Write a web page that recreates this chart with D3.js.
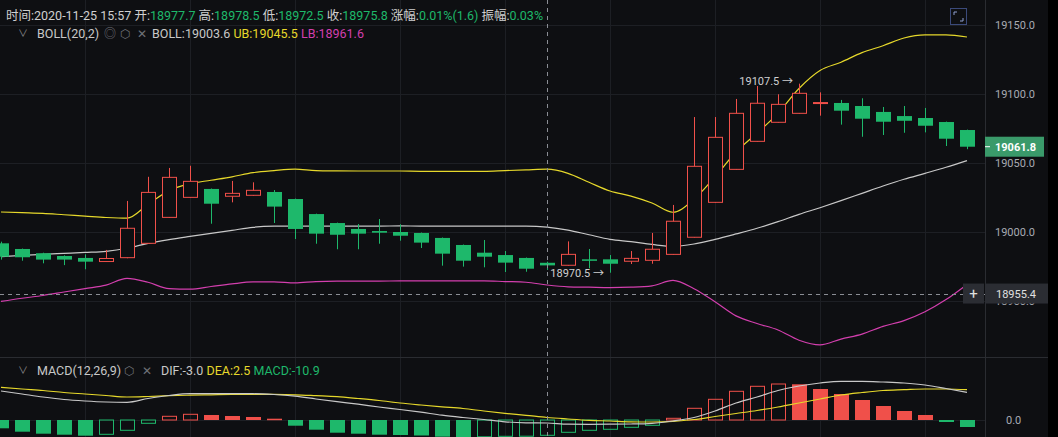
<!DOCTYPE html>
<html>
<head>
<meta charset="utf-8">
<script src="https://cdn.jsdelivr.net/npm/d3@7"></script>
<style>
  body { margin: 0; background: #0e0f12; overflow: hidden; }
  svg { display: block; font-family: Roboto, "Noto Sans CJK SC", sans-serif; }
</style>
</head>
<body>
<svg id="chart" width="1058" height="437"></svg>
<script>
// candle data (one entry per minute)
const opens  = [18991.8,18987.7,18984.6,18982.6,18981.2,18978.6,18981.4,18991.8,19010.6,19025.1,19031.2,19025.9,19026.6,19029,19023.9,19013,19006.5,19002.2,19000.7,19000,18999.3,18995.7,18990.6,18985,18983.3,18981.2,18977.7,18975.9,18980.2,18980.2,18978.8,18979.5,18983.8,18996.2,19021.5,19045.4,19065.7,19079.5,19086,19093.3,19093.5,19091.3,19087,19084,19082.6,19079.7,19073.9];
const highs  = [18993,18988,18985,18983.1,18983.8,18987,19022.5,19040,19046.4,19048,19031.5,19037,19036,19030.4,19024.2,19013.3,19006.8,19005.8,19009.4,19005.6,18999.6,18996,18990.9,18994.2,18986.2,18981.5,18978.5,18993.2,18987.7,18983.3,18986.2,18999.3,19019.6,19083.3,19083.3,19096.4,19105.8,19099.8,19107.5,19101.2,19095.7,19096.9,19090.6,19091.3,19089.9,19080,19074.2];
const lows   = [18980,18979.2,18977.3,18976,18973,18978.5,18981,18991.5,19010.3,19025,19006,19021.5,19026.3,19006.5,18994.9,18991.5,18987.5,18987.5,18991.5,18993.7,18988.4,18975.6,18974.9,18974.4,18971,18971.2,18972.5,18975.6,18973.7,18970.5,18976.8,18977,18983.5,18996,19021.2,19045.2,19065.5,19079.3,19085.8,19084.3,19077.8,19069,19070.3,19071.9,19072.2,19062.3,19060];
const closes = [18982.1,18981.7,18980,18980,18978.5,18980.8,19002.7,19028.7,19039.6,19036.7,19020.5,19028,19030.2,19018.4,19002.2,18998.8,18998,18998.8,18999.5,18997.3,18992.3,18984.3,18979.2,18982.1,18977.8,18973.4,18975.8,18983.8,18979.2,18977,18980.9,18987.5,19007.8,19047.6,19068.6,19086,19093.3,19092.5,19100.5,19093.8,19087.9,19082.1,19079.9,19080.6,19077,19067.6,19061.8];

// BOLL(20,2)
const bollUpper = [19014.5,19014,19013.5,19012.5,19011.5,19010.5,19010,19020,19030,19035,19037.5,19040,19043,19044.5,19045.5,19044.5,19044.3,19044.2,19044.2,19044.2,19044,19044,19044,19044,19044.5,19045,19045.5,19042.5,19036,19029.7,19026,19021,19014.3,19023.7,19040,19058,19071.7,19086,19104,19117,19123,19130,19135,19140.6,19142.8,19142.8,19141.3];
const bollMid   = [18982.1,18983,18983.8,18984.5,18985.2,18986,18988.2,18991.8,18994.5,18996.8,18999,19001.2,19003.4,19004.2,19004.3,19004.3,19004.3,19004.3,19004.3,19004.4,19004.3,19004.3,19004.3,19004.3,19004.3,19004.3,19003.6,19001.4,18998,18994.7,18993,18991,18989.6,18991.3,18994.7,18998.6,19002.7,19007.5,19012.8,19017.6,19022.7,19028,19033.3,19038.2,19042.5,19046.9,19051.7];
const bollLower = [18949.7,18952,18954,18956.5,18959,18961.5,18966.4,18963.6,18959,18958.6,18960.5,18962.4,18963.8,18963.9,18963.1,18964.1,18964.4,18964.4,18964.4,18964.6,18964.6,18964.6,18964.6,18964.6,18964.1,18963.6,18961.6,18960.3,18960,18959.7,18960,18961,18964.9,18958.9,18949.4,18939.2,18933.7,18929,18921.6,18918.2,18922.4,18926,18931.6,18935.8,18942.2,18951,18962];

// MACD(12,26,9)
const dif  = [29,26,23,20.5,19,18,17.7,21.5,24.5,26.3,26.3,26.3,26.3,25.5,23.8,21,18.3,15.8,13,10.5,7.8,4.8,2.5,0.5,-1.8,-2.8,-3.0,-4.2,-4.3,-4.2,-4,-3.3,-1,2.5,9,17,23,29.5,34,37,38.7,38.7,38,37,35,31.5,27.7];
const dea  = [32.7,31,29.5,27.5,26,24.5,23,23.5,24.3,24.8,25.2,25.6,25.7,25.6,25.2,24.3,23.3,21.5,19.5,17,15,13.2,11.5,9,6.7,4.7,2.5,1,-0.3,-1,-1.8,-2,-1.3,0.5,3.5,6.5,9.5,13,17,21,25,27.5,29.5,30.3,31,31,30.3];
const hist = [-8.3,-11.7,-13.7,-14.7,-15.7,-14.3,-10.3,-3.3,3.7,5.7,5,4,3,1.3,-5.7,-9.7,-12.7,-13.7,-14.7,-15,-15.5,-16.7,-17,-16.8,-16.3,-16.2,-15.3,-12.3,-10.3,-9.3,-7.3,-5.3,1.7,11.7,20.7,28.7,33.7,36,35.7,31,26,20,14,9,5,-2,-7];

const priceTicks = [18950, 19000, 19050, 19100, 19150];
const lastPrice = 19061.8;
const crossIndex = 26;
const crossPrice = 18955.4;

const W = 1058, H = 437;
const plotRight = 985;
const UP = '#f0504a', DOWN = '#1eb86b';
const svg = d3.select('#chart');

const x = d3.scaleLinear().domain([0, 46]).range([1, 967]);
const bw = 14;

// price pane
const y = d3.scaleLinear().domain([19000, 19150]).range([232, 25]);
// macd pane
const ym = d3.scaleLinear().domain([0, 40]).range([420, 380]);

svg.append('rect').attr('width', W).attr('height', H).attr('fill', '#0e0f12');

// grids
const grid = svg.append('g').attr('stroke', '#1d1f24').attr('stroke-width', 1);
d3.range(4, 47, 5).forEach(i => {
  grid.append('line').attr('x1', Math.round(x(i)) + 0.5).attr('x2', Math.round(x(i)) + 0.5)
    .attr('y1', 0).attr('y2', H);
});
priceTicks.forEach(v => {
  grid.append('line').attr('x1', 0).attr('x2', plotRight)
    .attr('y1', Math.round(y(v)) + 0.5).attr('y2', Math.round(y(v)) + 0.5);
});
grid.append('line').attr('x1', 0).attr('x2', plotRight).attr('y1', ym(0) + 0.5).attr('y2', ym(0) + 0.5);

// pane separator + axis separator
svg.append('line').attr('x1', 0).attr('x2', W).attr('y1', 357.5).attr('y2', 357.5).attr('stroke', '#2a2c31');
svg.append('line').attr('x1', plotRight + 0.5).attr('x2', plotRight + 0.5).attr('y1', 0).attr('y2', H).attr('stroke', '#2a2c31');
svg.append('rect').attr('x', 1048).attr('y', 0).attr('width', 10).attr('height', H).attr('fill', '#000');

const main = svg.append('g');
main.append('clipPath').attr('id', 'clipMain').append('rect').attr('x', 0).attr('y', 0).attr('width', plotRight).attr('height', 357);
main.attr('clip-path', 'url(#clipMain)');

// BOLL lines
const lineOf = (arr, sc) => d3.line().x((d, i) => x(i)).y(d => sc(d)).curve(d3.curveMonotoneX)(arr);
main.append('path').attr('d', lineOf(bollUpper, y)).attr('fill', 'none').attr('stroke', '#e6d82b').attr('stroke-width', 1.2);
main.append('path').attr('d', lineOf(bollMid, y)).attr('fill', 'none').attr('stroke', '#c8c8c8').attr('stroke-width', 1.2);
main.append('path').attr('d', lineOf(bollLower, y)).attr('fill', 'none').attr('stroke', '#d33fae').attr('stroke-width', 1.2);

// candles
opens.forEach((o, i) => {
  const c = closes[i], up = c >= o;
  const col = up ? UP : DOWN;
  const cx = Math.round(x(i)) + 0.5;
  const top = y(Math.max(o, c)), bot = y(Math.min(o, c));
  main.append('line').attr('x1', cx).attr('x2', cx).attr('y1', y(highs[i])).attr('y2', y(lows[i]))
    .attr('stroke', col).attr('stroke-width', 1);
  if (up) {
    main.append('rect').attr('x', cx - bw / 2).attr('y', top).attr('width', bw).attr('height', Math.max(bot - top, 1))
      .attr('fill', '#0e0f12').attr('stroke', col).attr('stroke-width', 1);
  } else {
    main.append('rect').attr('x', cx - bw / 2 - 0.5).attr('y', top).attr('width', bw + 1).attr('height', Math.max(bot - top, 1.5))
      .attr('fill', col);
  }
});

// max / min labels
const hiIdx = d3.maxIndex(highs), loIdx = d3.minIndex(lows);
main.append('text').attr('x', x(hiIdx) - 6).attr('y', y(highs[hiIdx]) + 1).attr('text-anchor', 'end')
  .attr('fill', '#d0d0d0').attr('font-size', 11).text(highs[hiIdx].toFixed(1) + ' →');
main.append('text').attr('x', x(loIdx) - 6).attr('y', y(lows[loIdx]) + 4).attr('text-anchor', 'end')
  .attr('fill', '#d0d0d0').attr('font-size', 11).text(lows[loIdx].toFixed(1) + ' →');

// MACD pane
const macd = svg.append('g');
macd.append('clipPath').attr('id', 'clipMacd').append('rect').attr('x', 0).attr('y', 358).attr('width', plotRight).attr('height', 79);
macd.attr('clip-path', 'url(#clipMacd)');
hist.forEach((h, i) => {
  const prev = i > 0 ? hist[i - 1] : h;
  const pos = h >= 0;
  const hollow = h > prev;
  const col = pos ? UP : DOWN;
  const cx = Math.round(x(i)) + 0.5;
  const y0 = ym(Math.max(h, 0)), y1 = ym(Math.min(h, 0));
  if (hollow) {
    macd.append('rect').attr('x', cx - bw / 2).attr('y', y0).attr('width', bw).attr('height', Math.max(y1 - y0, 1))
      .attr('fill', 'none').attr('stroke', col);
  } else {
    macd.append('rect').attr('x', cx - bw / 2 - 0.5).attr('y', y0).attr('width', bw + 1).attr('height', Math.max(y1 - y0, 1.5))
      .attr('fill', col);
  }
});
macd.append('path').attr('d', lineOf(dea, ym)).attr('fill', 'none').attr('stroke', '#e6d82b').attr('stroke-width', 1.2);
macd.append('path').attr('d', lineOf(dif, ym)).attr('fill', 'none').attr('stroke', '#c8c8c8').attr('stroke-width', 1.2);

// right axis labels
priceTicks.forEach(v => {
  svg.append('text').attr('x', 995).attr('y', y(v) + 4).attr('fill', '#a8abb2').attr('font-size', 11).text(v.toFixed(1));
});
svg.append('text').attr('x', 1006).attr('y', ym(0) + 4).attr('fill', '#a8abb2').attr('font-size', 11).text('0.0');

// crosshair
svg.append('line').attr('x1', Math.round(x(crossIndex)) + 0.5).attr('x2', Math.round(x(crossIndex)) + 0.5)
  .attr('y1', 0).attr('y2', H).attr('stroke', '#8a8d94').attr('stroke-dasharray', '4,4');
svg.append('line').attr('x1', 0).attr('x2', plotRight).attr('y1', Math.round(y(crossPrice)) + 0.5).attr('y2', Math.round(y(crossPrice)) + 0.5)
  .attr('stroke', '#8a8d94').attr('stroke-dasharray', '4,4');
svg.append('rect').attr('x', plotRight).attr('y', y(crossPrice) - 10).attr('width', 63).attr('height', 20).attr('fill', '#2b2d33');
svg.append('text').attr('x', 996).attr('y', y(crossPrice) + 4).attr('fill', '#e0e0e0').attr('font-size', 11).text(crossPrice.toFixed(1));
svg.append('rect').attr('x', 963).attr('y', y(crossPrice) - 10).attr('width', 21).attr('height', 20).attr('fill', '#2b2d33');
svg.append('text').attr('x', 973.5).attr('y', y(crossPrice) + 5).attr('text-anchor', 'middle').attr('fill', '#e0e0e0').attr('font-size', 15).text('+');

// last price tag
svg.append('rect').attr('x', plotRight).attr('y', y(lastPrice) - 10).attr('width', 59).attr('height', 20).attr('fill', '#3a9a6a');
svg.append('line').attr('x1', plotRight).attr('x2', plotRight + 5).attr('y1', y(lastPrice)).attr('y2', y(lastPrice)).attr('stroke', '#fff');
svg.append('text').attr('x', 995).attr('y', y(lastPrice) + 4).attr('fill', '#fff').attr('font-size', 11).attr('font-weight', 'bold').text(lastPrice.toFixed(1));

// header
const header = svg.append('text').attr('x', 6).attr('y', 20).attr('font-size', 12.5);
const G = '#1eb86b', L = '#d0d0d0';
[['时间:2020-11-25 15:57 ', L], ['开:', L], [opens[crossIndex].toFixed(1) + ' ', G], ['高:', L], [highs[crossIndex].toFixed(1) + ' ', G],
 ['低:', L], [lows[crossIndex].toFixed(1) + ' ', G], ['收:', L], [closes[crossIndex].toFixed(1) + ' ', G],
 ['涨幅:', L], ['0.01%(1.6) ', G], ['振幅:', L], ['0.03%', G]].forEach(([t, c]) => header.append('tspan').attr('fill', c).text(t));

// BOLL legend
const boll = svg.append('text').attr('y', 38).attr('font-size', 12.5);
boll.append('tspan').attr('x', 37).attr('fill', '#c8c8c8').text('BOLL(20,2)');
boll.append('tspan').attr('x', 152).attr('fill', '#c8c8c8').text('BOLL:' + bollMid[crossIndex].toFixed(1) + ' ');
boll.append('tspan').attr('fill', '#e6d82b').text('UB:' + bollUpper[crossIndex].toFixed(1) + ' ');
boll.append('tspan').attr('fill', '#d33fae').text('LB:' + bollLower[crossIndex].toFixed(1));
svg.append('text').attr('x', 18).attr('y', 37).attr('fill', '#888').attr('font-size', 10).text('∨');
svg.append('text').attr('x', 104).attr('y', 38).attr('fill', '#6f7178').attr('font-size', 12).text('◎');
svg.append('text').attr('x', 120).attr('y', 38).attr('fill', '#6f7178').attr('font-size', 12).text('⬡');
svg.append('text').attr('x', 137).attr('y', 38).attr('fill', '#6f7178').attr('font-size', 12).text('✕');

// MACD legend
const mh = svg.append('text').attr('y', 375).attr('font-size', 12.5);
mh.append('tspan').attr('x', 37).attr('fill', '#c8c8c8').text('MACD(12,26,9)');
mh.append('tspan').attr('x', 161).attr('fill', '#c8c8c8').text('DIF:' + dif[crossIndex].toFixed(1) + ' ');
mh.append('tspan').attr('fill', '#e6d82b').text('DEA:' + dea[crossIndex].toFixed(1) + ' ');
mh.append('tspan').attr('fill', '#1eb86b').text('MACD:-10.9');
svg.append('text').attr('x', 18).attr('y', 374).attr('fill', '#888').attr('font-size', 10).text('∨');
svg.append('text').attr('x', 124).attr('y', 375).attr('fill', '#6f7178').attr('font-size', 12).text('⬡');
svg.append('text').attr('x', 142).attr('y', 375).attr('fill', '#6f7178').attr('font-size', 12).text('✕');

// fullscreen icon
svg.append('rect').attr('x', 950.5).attr('y', 8.5).attr('width', 16).attr('height', 16).attr('fill', 'none').attr('stroke', '#3b4a7a');
svg.append('path').attr('d', 'M954,15 V12 H957 M963,18 V21 H960').attr('fill', 'none').attr('stroke', '#8fa0d0');
</script>
</body>
</html>
